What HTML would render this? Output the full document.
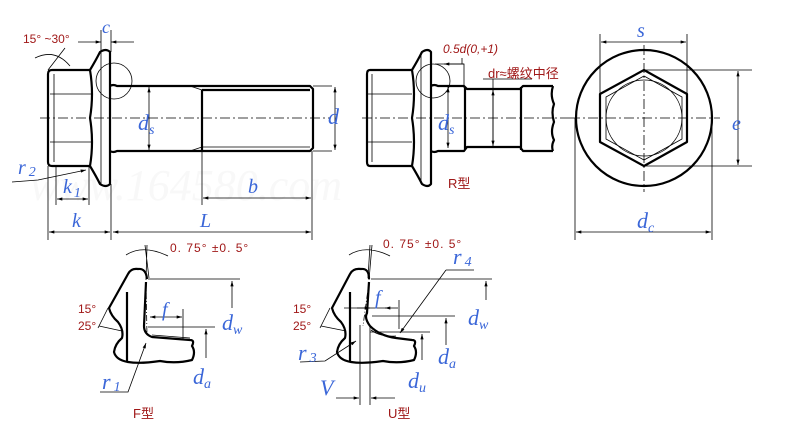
<!DOCTYPE html>
<html><head><meta charset="utf-8"><style>
html,body{margin:0;padding:0;background:#fff}
svg{display:block}
.t{stroke:#000;stroke-width:2.2;fill:none;stroke-linejoin:round}
.n{stroke:#000;stroke-width:0.8;fill:none}
.c{stroke:#000;stroke-width:0.8;fill:none;stroke-dasharray:10 3 2 3}
.b{font-family:"Liberation Serif",serif;font-style:italic;fill:#3a66d8}
.r{font-family:"Liberation Sans","Noto Sans CJK SC",sans-serif;fill:#a01818}
</style></head><body>
<svg width="800" height="424" viewBox="0 0 800 424" xmlns="http://www.w3.org/2000/svg">
<defs><marker id="a" viewBox="0 0 10 6" refX="10" refY="3" markerWidth="8" markerHeight="4" orient="auto-start-reverse"><path d="M0,0L10,3L0,6z" fill="#000"/></marker></defs>
<text x="30" y="200" font-family="Liberation Serif" font-style="italic" font-size="44" fill="#f8f8f8">www.164580.com</text>

<!-- main bolt -->
<line class="c" x1="40" y1="118" x2="330" y2="118"/>
<path class="t" d="M52,70 H90 M48,74 Q48,70 52,70 M48,74 V162 Q48,166 52,166 H90"/>
<path class="n" d="M50,94 H92 M50,142 H92 M54,74 V162"/>
<path class="t" d="M90,70 Q96,60 100,52 Q106,48 110,52 L110,184 Q106,188 100,184 Q96,176 90,166 Q94,142 90,118 Q94,94 90,70"/>
<line class="n" x1="101" y1="52" x2="101" y2="184"/>
<path class="t" d="M110,86 Q113,84 117,86 H310 L313,89 V148 L310,151 H117 Q113,153 110,151"/>
<path class="t" d="M202,90 V151 M202,90 H310"/>
<path class="n" d="M190,86 L202,90 M190,151 L202,147 M202,147 H310"/>
<circle class="n" cx="114" cy="81" r="18"/>
<path class="n" d="M48,70 L65,48 M35,58 Q55,48 70,66"/>
<path class="n" d="M101,30 V52 M111,30 V52"/>
<line class="n" x1="78" y1="42" x2="101" y2="42" marker-end="url(#a)"/><line class="n" x1="134" y1="42" x2="111" y2="42" marker-end="url(#a)"/>
<path class="n" d="M48,166 V240 M111,184 V240 M312,151 V240 M202,151 V205 M56,166 V205 M89,166 V205 M313,86 H332 M313,151 H332"/>
<line class="n" x1="49" y1="232" x2="110" y2="232" marker-start="url(#a)" marker-end="url(#a)"/>
<line class="n" x1="113" y1="232" x2="311" y2="232" marker-start="url(#a)" marker-end="url(#a)"/>
<line class="n" x1="203" y1="198" x2="311" y2="198" marker-start="url(#a)" marker-end="url(#a)"/>
<line class="n" x1="57" y1="199" x2="88" y2="199" marker-start="url(#a)" marker-end="url(#a)"/>
<line class="n" x1="149" y1="87" x2="149" y2="150" marker-start="url(#a)" marker-end="url(#a)"/>
<line class="n" x1="335" y1="87" x2="335" y2="150" marker-start="url(#a)" marker-end="url(#a)"/>
<path class="n" d="M12,182 L38,180 L86,170" marker-end="url(#a)"/>
<text class="r" x="23" y="43" font-size="12">15° ~30°</text>
<text class="b" x="102" y="33" font-size="18">c</text>
<text class="b" x="138" y="130" font-size="22">d<tspan font-size="14" dy="4">s</tspan></text>
<text class="b" x="328" y="124" font-size="22">d</text>
<text class="b" x="18" y="174" font-size="20">r<tspan font-size="14" dx="3" dy="2">2</tspan></text>
<text class="b" x="63" y="193" font-size="20">k<tspan font-size="14" dx="2" dy="4">1</tspan></text>
<text class="b" x="248" y="193" font-size="20">b</text>
<text class="b" x="72" y="227" font-size="20">k</text>
<text class="b" x="200" y="227" font-size="20">L</text>

<!-- R type -->
<line class="c" x1="362" y1="118" x2="570" y2="118"/>
<path class="t" d="M370,70 H412 M367,74 Q367,70 370,70 M367,74 V162 Q367,166 370,166 H412"/>
<path class="n" d="M368,94 H412 M368,142 H412 M372,74 V162"/>
<path class="t" d="M412,70 Q418,60 422,52 Q428,48 431,52 L431,184 Q428,188 422,184 Q418,176 412,166 Q416,142 412,118 Q416,94 412,70"/>
<line class="n" x1="421" y1="52" x2="421" y2="184"/>
<path class="t" d="M431,86 Q434,84 438,86 H464 L467,89 H520 L523,86 H553 M431,151 Q434,153 438,151 H464 L467,147 H520 L523,151 H553 M465,88 V149 M521,87 V150"/>
<path class="t" d="M553,86 Q550,95 554,104 Q551,112 554,122 Q550,132 554,140 Q551,146 553,151" stroke-width="1.2"/>
<circle class="n" cx="433" cy="81" r="17"/>
<path class="n" d="M435,64 H464 V88 M462,64 V58 M483,79 H532 M493,79 V145"/>
<line class="n" x1="444" y1="64" x2="464" y2="64" marker-start="url(#a)"/>
<line class="n" x1="493" y1="90" x2="493" y2="146" marker-start="url(#a)" marker-end="url(#a)"/>
<line class="n" x1="448" y1="87" x2="448" y2="148" marker-start="url(#a)" marker-end="url(#a)"/>
<text class="r" x="443" y="53" font-size="12" font-style="italic" font-family="Liberation Serif">0.5d(0,+1)</text>
<text class="r" x="488" y="78" font-size="13">dr≈螺纹中径</text>
<text class="b" x="438" y="130" font-size="22">d<tspan font-size="14" dy="4">s</tspan></text>
<text class="r" x="448" y="188" font-size="13">R型</text>

<!-- end view -->
<circle class="t" cx="644" cy="118" r="68"/>
<path class="t" d="M644,70 L687,94 V142 L644,166 L600,142 V94 Z" stroke-width="1.8"/>
<path class="n" d="M644,76 L682,97 V139 L644,160 L606,139 V97 Z"/>
<circle class="n" cx="644" cy="118" r="38"/>
<line class="c" x1="570" y1="118" x2="720" y2="118"/>
<line class="c" x1="644" y1="45" x2="644" y2="192"/>
<path class="n" d="M600,34 V94 M687,34 V94 M644,70 H752 M644,166 H752 M575,118 V240 M712,118 V240"/>
<line class="n" x1="601" y1="42" x2="686" y2="42" marker-start="url(#a)" marker-end="url(#a)"/>
<line class="n" x1="738" y1="71" x2="738" y2="165" marker-start="url(#a)" marker-end="url(#a)"/>
<line class="n" x1="576" y1="232" x2="711" y2="232" marker-start="url(#a)" marker-end="url(#a)"/>
<text class="b" x="637" y="37" font-size="20">s</text>
<text class="b" x="732" y="130" font-size="20">e</text>
<text class="b" x="637" y="228" font-size="22">d<tspan font-size="14" dy="4">c</tspan></text>

<!-- F type -->
<path class="t" d="M147,279 Q146,268 138,269 Q131,268 128,274 L109,308 Q111,316 118,322 Q124,330 122,338 Q115,344 114,352 Q116,360 128,362 Q140,364 160,361 Q176,364 192,360 Q196,352 192,346 Q195,340 190,340 L152,337 Q144,334 144,326 L146,282"/>
<path class="n" d="M146,282 L147,336" stroke-dasharray="6 2 1 2"/>
<path class="n" d="M152,335 L190,338" stroke-width="1.2"/>
<line class="t" x1="127" y1="292" x2="127" y2="362" stroke-width="1.8"/>
<path class="n" d="M145,245 L149,278 M147,245 L146,280 M126,255 Q143,244 168,256 M148,279 H240 M148,327 H215 M183,309 V340"/>
<line class="n" x1="150" y1="317" x2="182" y2="317" marker-start="url(#a)" marker-end="url(#a)"/>
<line class="n" x1="232" y1="308" x2="232" y2="281" marker-end="url(#a)"/>
<line class="n" x1="206" y1="358" x2="206" y2="329" marker-end="url(#a)"/>
<path class="n" d="M98,328 L108,308 M99,326 L122,331"/>
<path class="n" d="M100,392 L128,392 L146,343" marker-end="url(#a)"/>
<text class="r" x="170" y="252" font-size="12" letter-spacing="1">0. 75° ±0. 5°</text>
<text class="r" x="78" y="313" font-size="12">15°</text>
<text class="r" x="78" y="330" font-size="12">25°</text>
<text class="b" x="162" y="316" font-size="20">f</text>
<text class="b" x="222" y="330" font-size="22">d<tspan font-size="14" dy="4">w</tspan></text>
<text class="b" x="102" y="389" font-size="22">r<tspan font-size="14" dx="3" dy="2">1</tspan></text>
<text class="b" x="193" y="384" font-size="22">d<tspan font-size="14" dy="4">a</tspan></text>
<text class="r" x="133" y="418" font-size="13">F型</text>

<!-- U type -->
<path class="t" d="M369,279 Q369,268 361,269 Q353,268 350,274 L332,308 Q334,316 341,322 Q347,330 345,338 Q338,344 337,352 Q339,360 351,362 Q363,364 383,361 Q399,364 414,360 Q418,352 414,346 Q417,340 412,340 L396,338 Q380,336 370,326 Q364,318 367,313 L369,282"/>
<path class="n" d="M369,282 L363,326" stroke-dasharray="6 2 1 2"/>
<path class="n" d="M371,330 Q380,337 396,336" stroke-width="1.2"/>
<line class="t" x1="350" y1="292" x2="350" y2="362" stroke-width="1.8"/>
<path class="n" d="M370,245 L368,278 M372,245 L369,280 M349,255 Q366,244 390,256 M371,279 H492 M372,316 H455 M370,332 H430 M344,308 H390 M399,300 V329 M360,325 V405 M370,325 V405 M446,270 H474"/>
<line class="n" x1="357" y1="308" x2="370" y2="308" marker-end="url(#a)"/>
<line class="n" x1="398" y1="308" x2="385" y2="308" marker-end="url(#a)"/>
<line class="n" x1="336" y1="398" x2="359" y2="398" marker-end="url(#a)"/>
<line class="n" x1="395" y1="398" x2="371" y2="398" marker-end="url(#a)"/>
<line class="n" x1="486" y1="300" x2="486" y2="281" marker-end="url(#a)"/>
<line class="n" x1="446" y1="345" x2="446" y2="318" marker-end="url(#a)"/>
<line class="n" x1="422" y1="360" x2="422" y2="334" marker-end="url(#a)"/>
<path class="n" d="M446,270 L400,333" marker-end="url(#a)"/>
<path class="n" d="M320,328 L330,308 M321,326 L346,331"/>
<path class="n" d="M300,362 L325,361 L356,341" marker-end="url(#a)"/>
<text class="r" x="383" y="248" font-size="12" letter-spacing="1">0. 75° ±0. 5°</text>
<text class="b" x="453" y="264" font-size="22">r<tspan font-size="14" dx="3" dy="2">4</tspan></text>
<text class="r" x="293" y="313" font-size="12">15°</text>
<text class="r" x="293" y="330" font-size="12">25°</text>
<text class="b" x="375" y="304" font-size="20">f</text>
<text class="b" x="468" y="325" font-size="22">d<tspan font-size="14" dy="4">w</tspan></text>
<text class="b" x="298" y="360" font-size="22">r<tspan font-size="14" dx="3" dy="2">3</tspan></text>
<text class="b" x="438" y="364" font-size="22">d<tspan font-size="14" dy="4">a</tspan></text>
<text class="b" x="408" y="388" font-size="22">d<tspan font-size="14" dy="4">u</tspan></text>
<text class="b" x="320" y="395" font-size="22">V</text>
<text class="r" x="388" y="418" font-size="13">U型</text>
</svg>
</body></html>
